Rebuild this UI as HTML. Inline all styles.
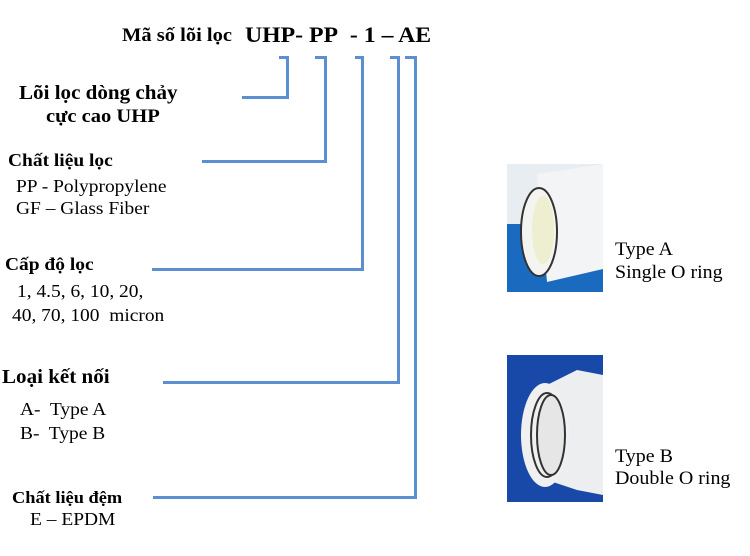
<!DOCTYPE html>
<html><head><meta charset="utf-8"><style>
body{margin:0;width:750px;height:556px;background:#fff;position:relative;overflow:hidden;font-family:"Liberation Serif",serif;color:#000}
.t{position:absolute;white-space:nowrap;transform:scaleX(1.08);transform-origin:left top;margin-top:2px}
.b{font-weight:bold}
.l{position:absolute;background:#5b8fd0}
</style></head><body>
<div class="t b" style="left:122px;top:23px;font-size:19px">Mã số lõi lọc</div>
<div class="t b" style="left:245px;top:20px;font-size:22px">UHP- PP&nbsp; - 1 – AE</div>
<div class="t b" style="left:19px;top:81px;font-size:19.5px">Lõi lọc dòng chảy</div>
<div class="t b" style="left:46px;top:104px;font-size:19px">cực cao UHP</div>
<div class="t b" style="left:8px;top:148px;font-size:18px">Chất liệu lọc</div>
<div class="t" style="left:16px;top:174px;font-size:18px">PP - Polypropylene</div>
<div class="t" style="left:16px;top:196px;font-size:18px">GF – Glass Fiber</div>
<div class="t b" style="left:5px;top:252px;font-size:18px">Cấp độ lọc</div>
<div class="t" style="left:17px;top:279px;font-size:18px">1, 4.5, 6, 10, 20,</div>
<div class="t" style="left:12px;top:303px;font-size:18px">40, 70, 100&nbsp; micron</div>
<div class="t b" style="left:2px;top:365px;font-size:19.5px">Loại kết nối</div>
<div class="t" style="left:20px;top:397px;font-size:18px">A-&nbsp; Type A</div>
<div class="t" style="left:20px;top:421px;font-size:18px">B-&nbsp; Type B</div>
<div class="t b" style="left:12px;top:486px;font-size:17px">Chất liệu đệm</div>
<div class="t" style="left:30px;top:507px;font-size:18px">E – EPDM</div>
<div class="t" style="left:615px;top:238px;font-size:18.5px">Type A</div>
<div class="t" style="left:615px;top:261px;font-size:18.5px">Single O ring</div>
<div class="t" style="left:615px;top:445px;font-size:18.5px">Type B</div>
<div class="t" style="left:615px;top:467px;font-size:18.5px">Double O ring</div>

<div class="l" style="left:279px;top:56px;width:10px;height:3px"></div>
<div class="l" style="left:286px;top:56px;width:3px;height:43px"></div>
<div class="l" style="left:242px;top:96px;width:47px;height:3px"></div>

<div class="l" style="left:315px;top:56px;width:12px;height:3px"></div>
<div class="l" style="left:324px;top:56px;width:3px;height:107px"></div>
<div class="l" style="left:202px;top:160px;width:125px;height:3px"></div>

<div class="l" style="left:355px;top:56px;width:9px;height:3px"></div>
<div class="l" style="left:361px;top:56px;width:3px;height:215px"></div>
<div class="l" style="left:152px;top:268px;width:212px;height:3px"></div>

<div class="l" style="left:390px;top:56px;width:10px;height:3px"></div>
<div class="l" style="left:397px;top:56px;width:3px;height:328px"></div>
<div class="l" style="left:163px;top:381px;width:237px;height:3px"></div>

<div class="l" style="left:405px;top:56px;width:12px;height:3px"></div>
<div class="l" style="left:414px;top:56px;width:3px;height:443px"></div>
<div class="l" style="left:153px;top:496px;width:264px;height:3px"></div>

<svg style="position:absolute;left:507px;top:164px" width="96" height="128">
<rect width="96" height="128" fill="#1a6ac0"/>
<rect width="96" height="60" fill="#e8edf2"/>
<path d="M30 10 L96 0 L96 105 L40 118 Z" fill="#f2f4f6"/>
<ellipse cx="32" cy="68" rx="18" ry="44" fill="#f4f4f0" stroke="#333" stroke-width="2"/>
<ellipse cx="36" cy="66" rx="11" ry="34" fill="#eeeed0"/>
</svg>
<svg style="position:absolute;left:507px;top:355px" width="96" height="147">
<rect width="96" height="147" fill="#1848a8"/>
<path d="M30 35 L70 15 L96 20 L96 140 L70 135 L40 125 Z" fill="#eceef0"/>
<ellipse cx="38" cy="80" rx="24" ry="52" fill="#f0f0f0"/>
<ellipse cx="40" cy="80" rx="16" ry="42" fill="none" stroke="#333" stroke-width="2"/>
<ellipse cx="44" cy="80" rx="14" ry="40" fill="#e6e6e6" stroke="#333" stroke-width="2"/>
</svg>
</body></html>
